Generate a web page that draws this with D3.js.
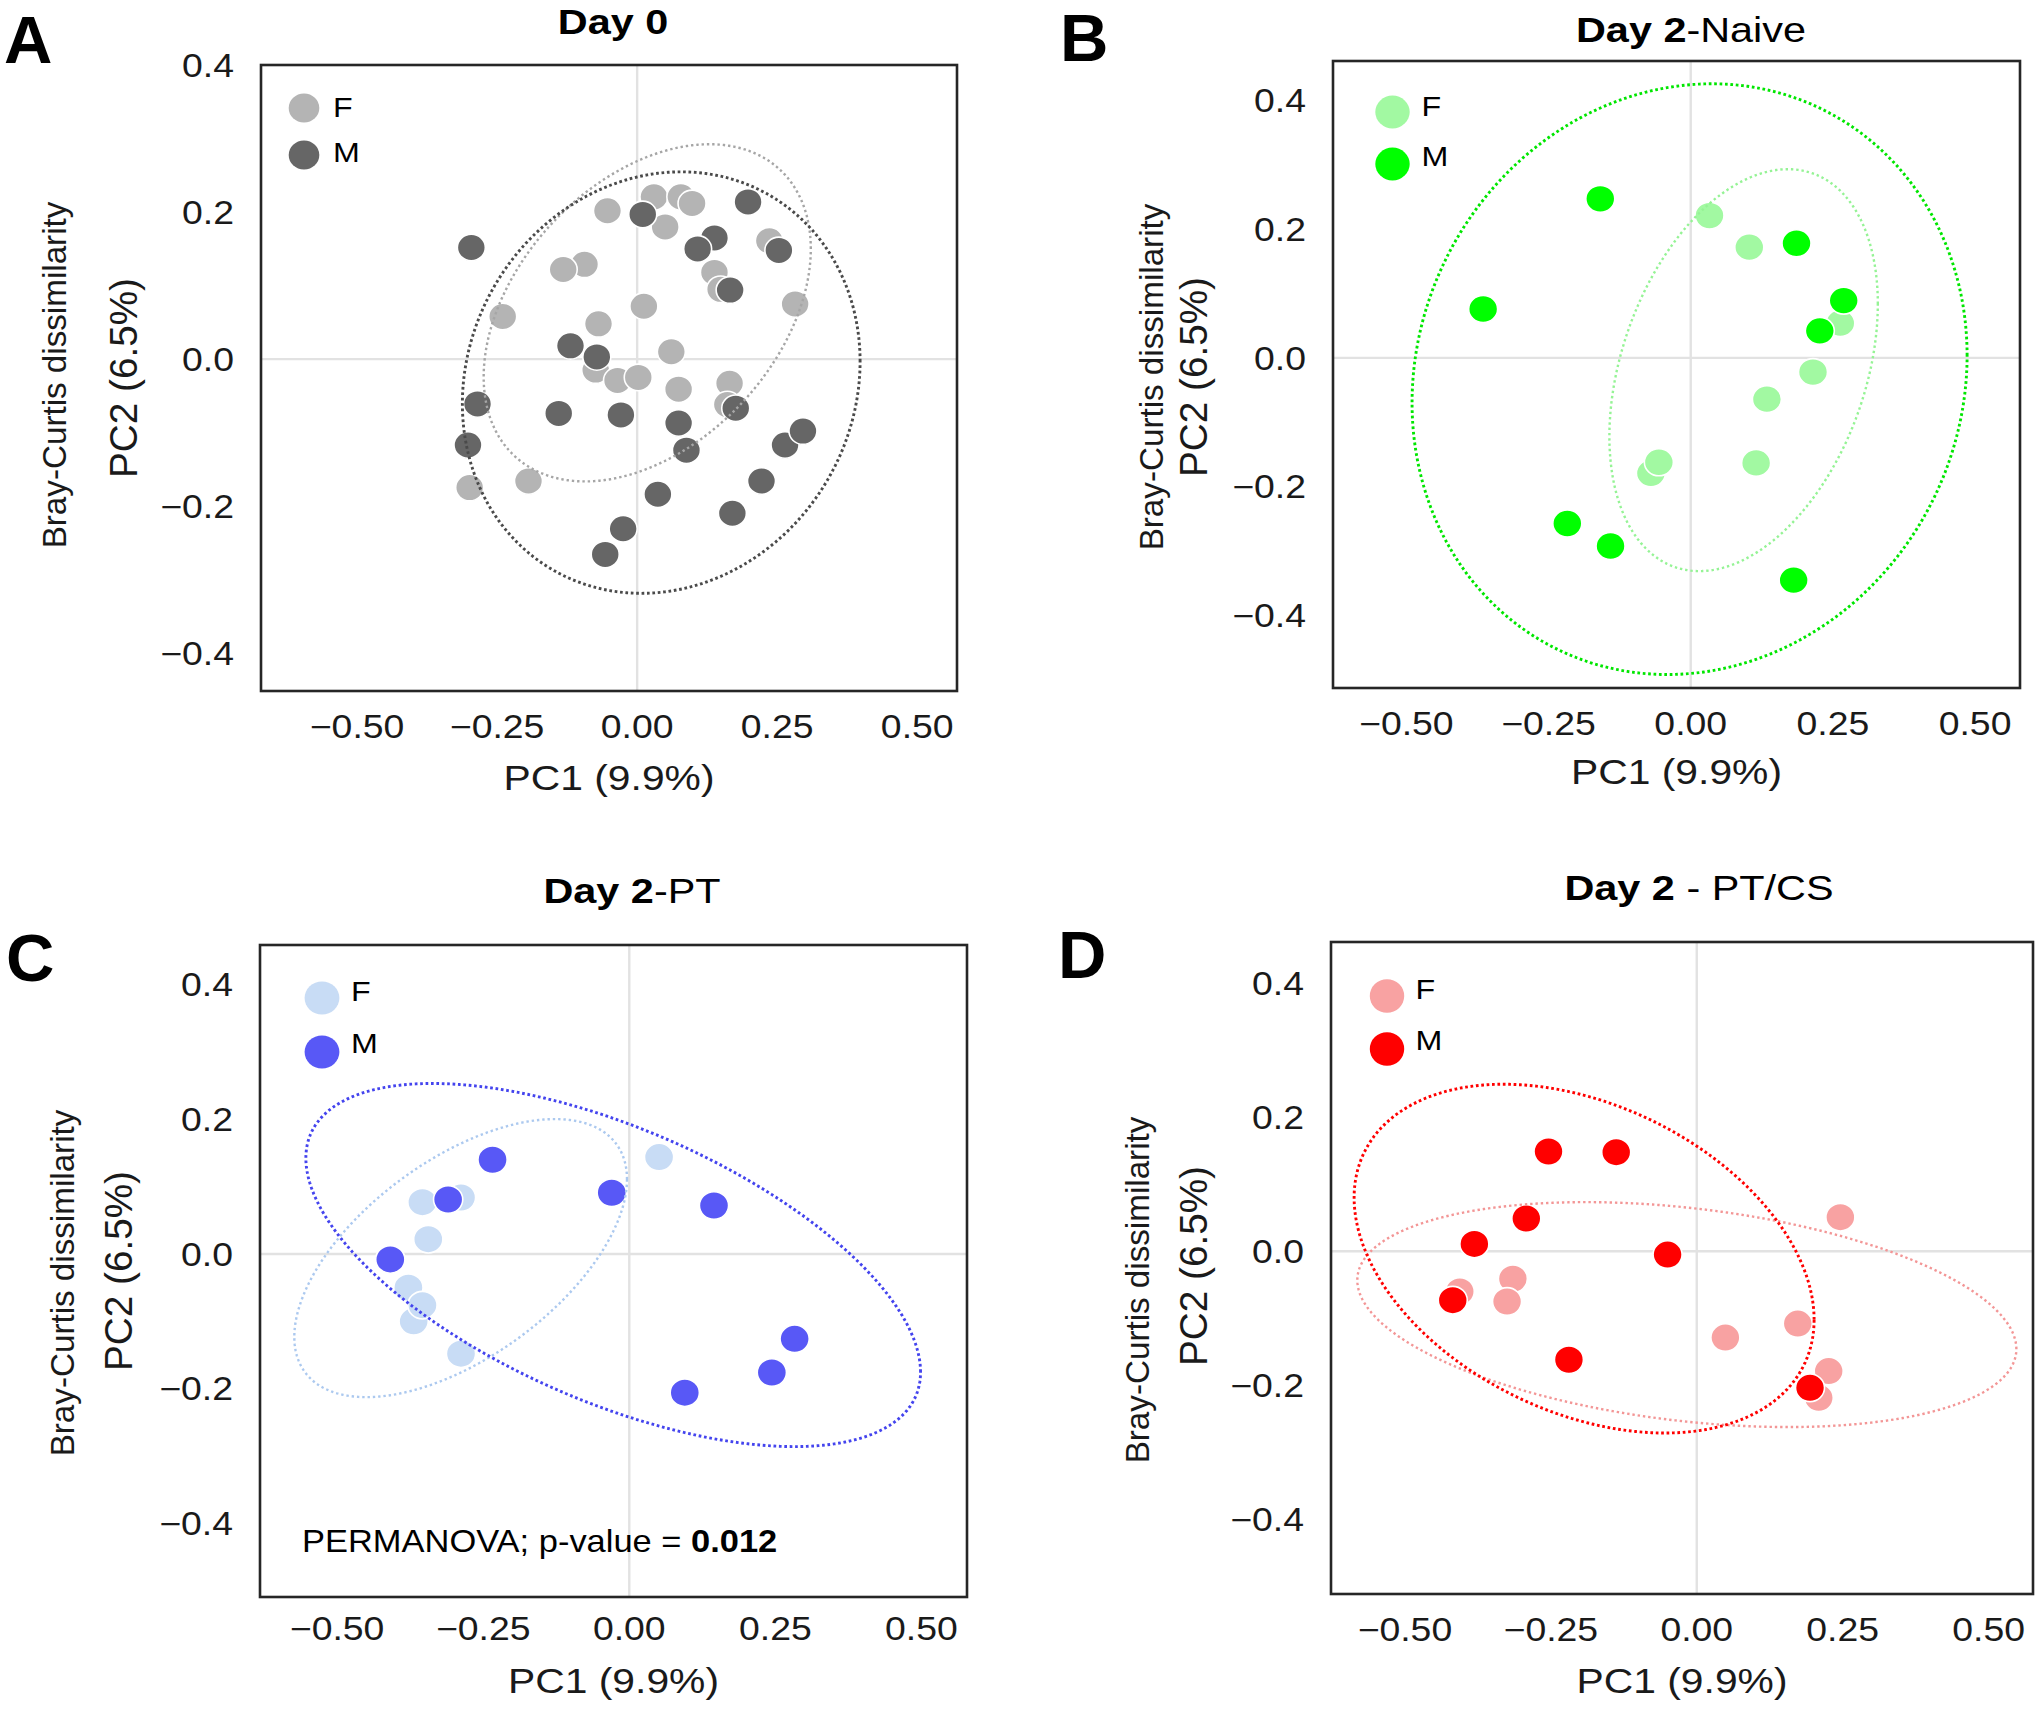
<!DOCTYPE html>
<html><head><meta charset="utf-8">
<script src="https://cdn.jsdelivr.net/npm/d3@7/dist/d3.min.js"></script>
<style>html,body{margin:0;padding:0;background:#fff}</style>
</head><body>
<svg id="fig" width="2040" height="1712"></svg>
<script>
// ---------------- data ----------------
const xTicks = [-0.5, -0.25, 0, 0.25, 0.5];
const yTicks = [-0.4, -0.2, 0, 0.2, 0.4];
const groups = ["F", "M"];
const xAxisLabel = "PC1 (9.9%)";
const yAxisLabel = "PC2 (6.5%)";
const yAxisSubLabel = "Bray-Curtis dissimilarity";
const permanovaText = ["PERMANOVA; p-value = ", "0.012"];

// Panel A: Day 0  [PC1, PC2]
const day0_F = [[0.030,0.221],[0.078,0.221],[0.098,0.212],[-0.053,0.202],[0.050,0.180],[0.236,0.161],[-0.094,0.129],[-0.132,0.122],[0.138,0.118],[0.149,0.095],[0.282,0.075],[0.012,0.072],[-0.240,0.058],[-0.069,0.048],[0.061,0.010],[-0.074,-0.015],[-0.035,-0.029],[0.002,-0.025],[0.074,-0.041],[0.165,-0.033],[0.161,-0.062],[-0.194,-0.166],[-0.299,-0.175]];
const day0_M = [[0.198,0.214],[0.010,0.197],[0.138,0.165],[0.108,0.150],[0.253,0.148],[-0.296,0.152],[0.166,0.094],[-0.119,0.018],[-0.072,0.003],[-0.285,-0.061],[-0.140,-0.074],[-0.029,-0.076],[0.176,-0.067],[0.074,-0.087],[0.088,-0.124],[0.264,-0.117],[0.296,-0.098],[-0.302,-0.117],[0.222,-0.166],[0.037,-0.184],[0.170,-0.210],[-0.025,-0.231],[-0.057,-0.266]];
// ellipses: [centerX, centerY, halfWidth, halfHeight, tilt]
const day0_ellF = [0.018, 0.063, 0.292, 0.2296, 0.38];
const day0_ellM = [0.043, -0.032, 0.355, 0.287, 0.10];

// Panel B: Day 2-Naive
const naive_F = [[0.033,0.221],[0.103,0.172],[0.263,0.054],[0.215,-0.022],[0.134,-0.064],[0.115,-0.163],[-0.070,-0.179],[-0.056,-0.162]];
const naive_M = [[-0.159,0.247],[-0.365,0.076],[0.186,0.178],[0.269,0.089],[0.227,0.042],[-0.217,-0.257],[-0.141,-0.292],[0.181,-0.345]];
const naive_ellF = [0.093, -0.019, 0.236, 0.312, 0.33];
const naive_ellM = [-0.002, -0.033, 0.488, 0.4586, 0.08];

// Panel C: Day 2-PT
const pt_F = [[0.051,0.144],[-0.354,0.077],[-0.288,0.084],[-0.344,0.022],[-0.378,-0.050],[-0.369,-0.100],[-0.354,-0.076],[-0.288,-0.148]];
const pt_M = [[-0.234,0.140],[-0.310,0.081],[-0.030,0.091],[0.145,0.072],[-0.409,-0.008],[0.283,-0.126],[0.244,-0.176],[0.095,-0.206]];
const pt_ellF = [-0.2886, -0.0061, 0.2847, 0.2065, 0.567];
const pt_ellM = [-0.0275, -0.0164, 0.526, 0.2697, -0.589];

// Panel D: Day 2 - PT/CS
const ptcs_F = [[0.246,0.051],[-0.406,-0.060],[-0.315,-0.041],[-0.325,-0.075],[0.049,-0.129],[0.173,-0.108],[0.226,-0.179],[0.209,-0.219]];
const ptcs_M = [[-0.254,0.149],[-0.138,0.148],[-0.292,0.049],[-0.381,0.011],[-0.050,-0.005],[-0.418,-0.073],[-0.219,-0.162],[0.194,-0.204]];
const ptcs_ellF = [-0.017, -0.0946, 0.5645, 0.168, -0.306];
const ptcs_ellM = [-0.193, -0.011, 0.394, 0.2605, -0.35];

// ---------------- layout / style ----------------
const FONT = "'Liberation Sans', Arial, Helvetica, sans-serif";
const SX = 1.15;
const panels = [
  { letter:"A", letterPos:[4,63], titleBold:"Day 0", titleRest:"", titlePos:[613,34],
    F:day0_F, M:day0_M, ellF:day0_ellF, ellM:day0_ellM,
    colF:"#b4b4b4", colM:"#666666", ellColF:"#a6a6a6", ellColM:"#4a4a4a",
    rect:[261,957,65,691], xdom:[-0.6715,0.571], ydom:[-0.452,0.4005],
    xtickDy:47, xlabDy:99, pc2X:137, brayX:66, pc2Y:378, brayY:375,
    legend:[304,108,155,333], legTxtDy:[9,7], legR:[15.3,14.5], ptR:[14,13.3] },
  { letter:"B", letterPos:[1060,61], titleBold:"Day 2", titleRest:"-Naive", titlePos:[1691,42],
    F:naive_F, M:naive_M, ellF:naive_ellF, ellM:naive_ellM,
    colF:"#a2f9a2", colM:"#00ff00", ellColF:"#95f395", ellColM:"#00e600",
    rect:[1333,2020,61,688], xdom:[-0.629,0.579], ydom:[-0.5125,0.461],
    xtickDy:47, xlabDy:96, pc2X:1207, brayX:1163, pc2Y:377, brayY:377,
    legend:[1392.5,112,164,1421.5], legTxtDy:[4,2], legR:[17.2,16.4], ptR:[14.5,13.5] },
  { letter:"C", letterPos:[6,981], titleBold:"Day 2", titleRest:"-PT", titlePos:[632,903],
    F:pt_F, M:pt_M, ellF:pt_ellF, ellM:pt_ellM,
    colF:"#c8dcf5", colM:"#5858f6", ellColF:"#acc9ef", ellColM:"#4444ee",
    rect:[260,967,945,1597], xdom:[-0.632,0.578], ydom:[-0.5095,0.459],
    xtickDy:43, xlabDy:96, pc2X:132, brayX:74, pc2Y:1271, brayY:1283,
    legend:[322,998,1052,351], legTxtDy:[3,0.5], legR:[17.4,16.6], ptR:[14.6,13.8], note:[302,1552] },
  { letter:"D", letterPos:[1058,978], titleBold:"Day 2", titleRest:" - PT/CS", titlePos:[1699,900],
    F:ptcs_F, M:ptcs_M, ellF:ptcs_ellF, ellM:ptcs_ellM,
    colF:"#f8a2a2", colM:"#ff0000", ellColF:"#f39696", ellColM:"#ff0000",
    rect:[1331,2033,942,1594], xdom:[-0.6266,0.576], ydom:[-0.512,0.462],
    xtickDy:47, xlabDy:99, pc2X:1207, brayX:1149, pc2Y:1266, brayY:1290,
    legend:[1387,996,1049,1415.5], legTxtDy:[3,1], legR:[17.2,16.8], ptR:[14.5,13.8] }
];

const svg = d3.select("#fig");
const fmtX = d3.format(".2f");
const fmtY = d3.format(".1f");

function hText(g, x, y, str, size, opts = {}) {
  const t = g.append("text")
    .attr("transform", `translate(${x},${y}) scale(${opts.sx ?? SX},1)`)
    .attr("font-family", FONT).attr("font-size", size)
    .attr("font-weight", opts.weight || "normal")
    .attr("text-anchor", opts.anchor || "start")
    .attr("fill", opts.fill || "#1a1a1a");
  if (str !== null) t.text(str);
  return t;
}
function vText(g, x, y, str, size) {
  return g.append("text")
    .attr("transform", `translate(${x},${y}) rotate(-90)`)
    .attr("font-family", FONT).attr("font-size", size)
    .attr("text-anchor", "middle").attr("fill", "#1a1a1a").text(str);
}

panels.forEach(p => {
  const [x0, x1, y0, y1] = p.rect;
  const xs = d3.scaleLinear().domain(p.xdom).range([x0, x1]);
  const ys = d3.scaleLinear().domain(p.ydom).range([y1, y0]);
  const g = svg.append("g");

  const cid = "clip" + p.letter;
  svg.append("clipPath").attr("id", cid).append("rect")
    .attr("x", x0).attr("y", y0).attr("width", x1 - x0).attr("height", y1 - y0);
  const plot = g.append("g").attr("clip-path", `url(#${cid})`);

  // zero lines
  plot.append("line").attr("x1", xs(0)).attr("x2", xs(0)).attr("y1", y0).attr("y2", y1)
    .attr("stroke", "#e2e2e2").attr("stroke-width", 2.4);
  plot.append("line").attr("x1", x0).attr("x2", x1).attr("y1", ys(0)).attr("y2", ys(0))
    .attr("stroke", "#e2e2e2").attr("stroke-width", 2.4);

  // points
  const drawPts = (arr, col) => plot.append("g").selectAll("ellipse").data(arr).join("ellipse")
    .attr("cx", d => xs(d[0])).attr("cy", d => ys(d[1]))
    .attr("rx", p.ptR[0]).attr("ry", p.ptR[1])
    .attr("fill", col).attr("stroke", "#ffffff").attr("stroke-width", 1.6);
  drawPts(p.F, p.colF);
  drawPts(p.M, p.colM);

  // ellipses
  const line = d3.line().x(d => xs(d[0])).y(d => ys(d[1])).curve(d3.curveLinearClosed);
  const ellPts = e => {
    const phi = Math.asin(e[4]);
    return d3.range(0, 360, 1).map(a => {
      const t = a * Math.PI / 180;
      return [e[0] + e[2] * Math.cos(t), e[1] + e[3] * Math.sin(t + phi)];
    });
  };
  plot.append("path").attr("d", line(ellPts(p.ellF))).attr("fill", "none")
    .attr("stroke", p.ellColF).attr("stroke-width", 2.4).attr("stroke-dasharray", "2.4,2.9");
  plot.append("path").attr("d", line(ellPts(p.ellM))).attr("fill", "none")
    .attr("stroke", p.ellColM).attr("stroke-width", 2.9).attr("stroke-dasharray", "2.7,2.7");

  // frame
  g.append("rect").attr("x", x0).attr("y", y0).attr("width", x1 - x0).attr("height", y1 - y0)
    .attr("fill", "none").attr("stroke", "#262626").attr("stroke-width", 2.6);

  // tick labels
  xTicks.forEach(v => hText(g, xs(v), y1 + p.xtickDy, fmtX(v), 32.5, { anchor: "middle" }));
  yTicks.forEach(v => hText(g, x0 - 27, ys(v) + 11.7, fmtY(v), 32.5, { anchor: "end" }));

  // axis labels
  hText(g, (x0 + x1) / 2, y1 + p.xlabDy, xAxisLabel, 35.5, { anchor: "middle" });
  vText(g, p.pc2X, p.pc2Y, yAxisLabel, 38.7);
  vText(g, p.brayX, p.brayY, yAxisSubLabel, 33.2);

  // title
  const tt = hText(g, p.titlePos[0], p.titlePos[1], null, 36, { anchor: "middle", fill: "#000" });
  tt.append("tspan").attr("font-weight", "bold").text(p.titleBold);
  if (p.titleRest) tt.append("tspan").text(p.titleRest);

  // panel letter
  hText(g, p.letterPos[0], p.letterPos[1], p.letter, 67, { weight: "bold", sx: 1, fill: "#000" });

  // legend
  const [lx, lyF, lyM, tx] = p.legend;
  [[groups[0], lyF, p.colF, p.legTxtDy[0]], [groups[1], lyM, p.colM, p.legTxtDy[1]]].forEach(([lab, ly, col, dy]) => {
    g.append("ellipse").attr("cx", lx).attr("cy", ly).attr("rx", p.legR[0]).attr("ry", p.legR[1]).attr("fill", col);
    hText(g, tx, ly + dy, lab, 28, { fill: "#000" });
  });

  // annotation
  if (p.note) {
    const nt = hText(g, p.note[0], p.note[1], null, 30.5, { sx: 1.13, fill: "#000" });
    nt.append("tspan").text(permanovaText[0]);
    nt.append("tspan").attr("font-weight", "bold").text(permanovaText[1]);
  }
});
</script>
</body></html>
